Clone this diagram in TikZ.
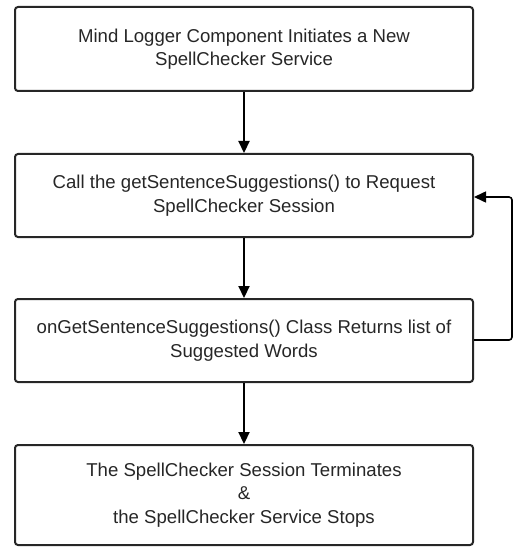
\documentclass[tikz,border=0pt]{standalone}
\usepackage{fontspec}
\setmainfont{Liberation Sans}
\usetikzlibrary{arrows.meta}
\begin{document}
\begin{tikzpicture}[x=1pt,y=-1pt,
  box/.style={draw=black!85,line width=2pt,rounded corners=3pt,minimum width=458pt,align=center,font=\fontsize{18.6}{23.5}\selectfont,text=black!85,inner sep=0pt},
  conn/.style={draw=black,line width=2.2pt,-{Triangle[length=12pt,width=11pt]}}]
\useasboundingbox (0,0) rectangle (515,548);
\node[box,minimum height=84pt] (b1) at (244,49) {Mind Logger Component Initiates a New\\SpellChecker Service};
\node[box,minimum height=83pt] (b2) at (244,195.5) {Call the getSentenceSuggestions() to Request\\SpellChecker Session};
\node[box,minimum height=83pt] (b3) at (244,340.5) {onGetSentenceSuggestions() Class Returns list of\\Suggested Words};
\node[box,minimum height=100pt] (b4) at (244,495) {The SpellChecker Session Terminates\\\&\\the SpellChecker Service Stops};
\coordinate (r1) at (512,340);
\coordinate (r2) at (512,197);
\draw[conn] (b1.south) -- (b2.north);
\draw[conn] (b2.south) -- (b3.north);
\draw[conn] (b3.south) -- (b4.north);
\draw[conn,line width=1.6pt,rounded corners=3pt] (b3.east |- r1) -- (r1) -- (r2) -- (b2.east |- r2);
\end{tikzpicture}
\end{document}
